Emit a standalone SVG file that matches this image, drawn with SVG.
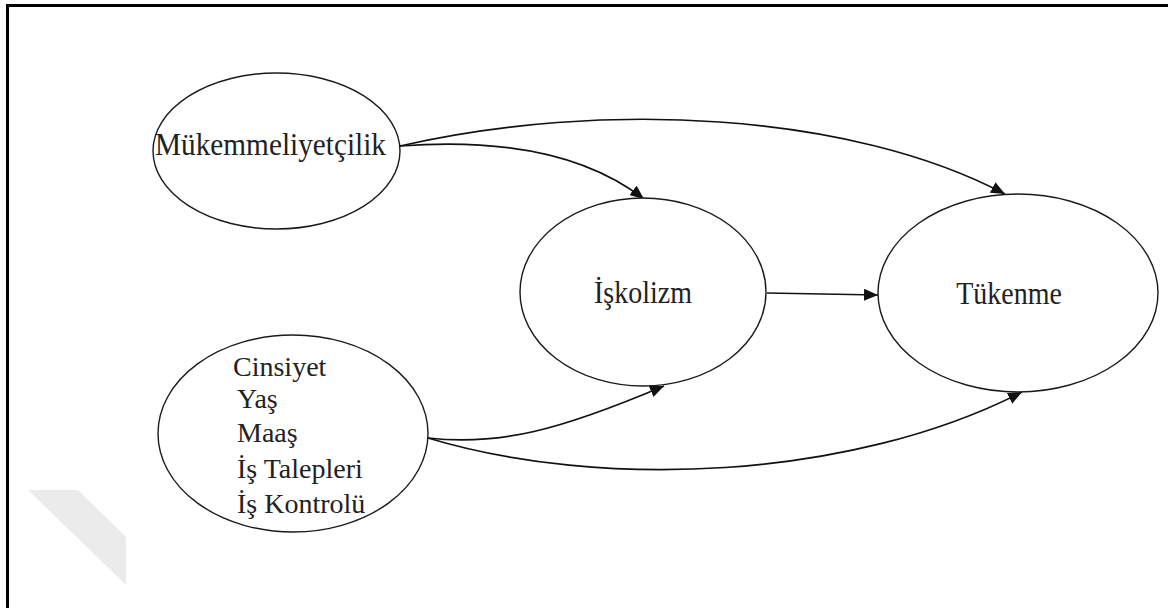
<svg xmlns="http://www.w3.org/2000/svg" width="1168" height="608" viewBox="0 0 1168 608">
<style>
.node ellipse{fill:#fff;stroke:#1a1a1a;stroke-width:1.4}
.lbl{font-family:"Liberation Serif","Times New Roman",serif;font-size:28px;fill:#222}
.edge{fill:none;stroke:#111;stroke-width:1.6;marker-end:url(#ah)}
</style>
<defs>
<marker id="ah" markerUnits="userSpaceOnUse" markerWidth="16" markerHeight="12" refX="14" refY="6" orient="auto">
<path d="M0,0 L14,6 L0,12 Z" fill="#111"/>
</marker>
</defs>
<rect x="0" y="0" width="1168" height="608" fill="#fff"/>
<path d="M7.5,608 L7.5,5.5 L1168,5.5" fill="none" stroke="#000" stroke-width="3"/>
<polygon points="28,490 78,490 126,537 126,585" fill="#ebebeb"/>
<g id="connectors">
<path class="edge" d="M400,146 Q560,134 644,199"/>
<path class="edge" d="M400,146 C600,100 850,112 1005,194"/>
<path class="edge" d="M767,293 L878,295"/>
<path class="edge" d="M428,438 C500,446 560,430 664,386"/>
<path class="edge" d="M428,438 C600,490 850,480 1022,392"/>
</g>
<g id="n-mukemmeliyetcilik" class="node">
<ellipse cx="276.5" cy="151" rx="123.5" ry="78"/>
<text class="lbl" transform="translate(155,155) scale(1,1.1)" textLength="231" lengthAdjust="spacingAndGlyphs">Mükemmeliyetçilik</text>
</g>
<g id="n-demografik" class="node">
<ellipse cx="293" cy="433.5" rx="135" ry="98.5"/>
<text class="lbl" x="233" y="376">Cinsiyet</text>
<text class="lbl" x="237" y="408">Yaş</text>
<text class="lbl" x="237" y="442">Maaş</text>
<text class="lbl" x="237" y="478">İş Talepleri</text>
<text class="lbl" x="237" y="513">İş Kontrolü</text>
</g>
<g id="n-iskolizm" class="node">
<ellipse cx="643" cy="292" rx="123" ry="94"/>
<text class="lbl" text-anchor="middle" transform="translate(643,303) scale(1,1.1)">İşkolizm</text>
</g>
<g id="n-tukenme" class="node">
<ellipse cx="1018" cy="293" rx="140" ry="99"/>
<text class="lbl" text-anchor="middle" transform="translate(1009,304) scale(1,1.1)">Tükenme</text>
</g>
</svg>
